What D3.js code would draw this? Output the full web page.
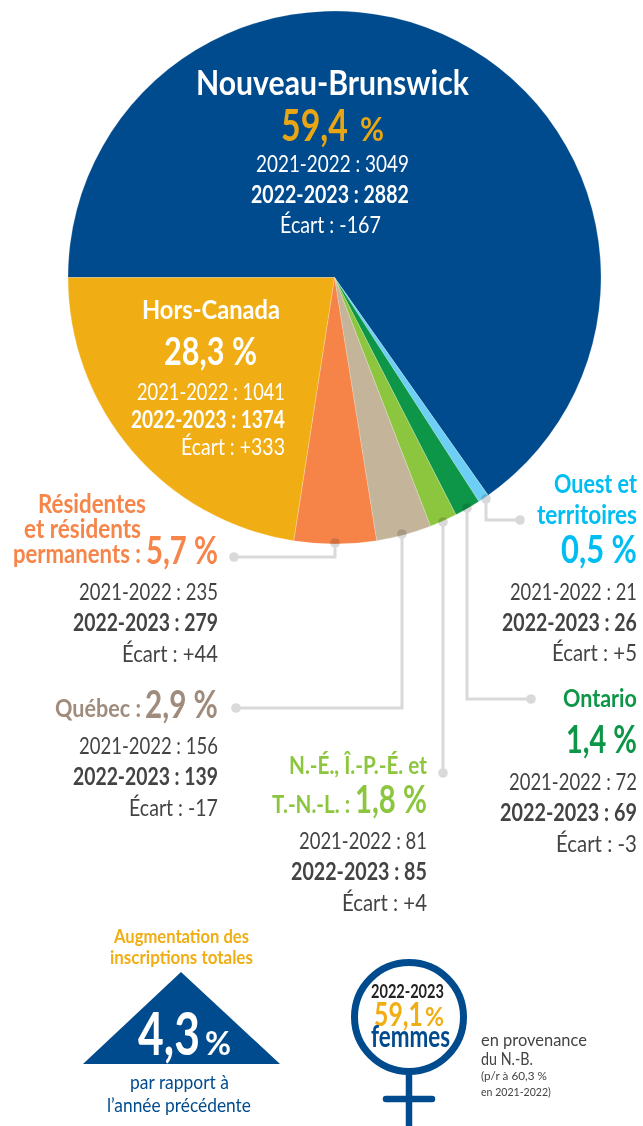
<!DOCTYPE html>
<html lang="fr">
<head>
<meta charset="utf-8">
<title>Inscriptions par provenance</title>
<script src="https://cdn.jsdelivr.net/npm/d3@7"></script>
<style>
  html, body { margin: 0; background: #fff; }
  svg { display: block; }
  text { font-family: Lato, "Open Sans", sans-serif; }
  #leaders { mix-blend-mode: multiply; }
</style>
</head>
<body>
<div id="main"></div>
<script>
// slice order, clockwise from the horizontal edge on the left
const regions = ["Nouveau-Brunswick", "Ouest et territoires", "Ontario", "N.-É., Î.-P.-É. et T.-N.-L.", "Québec", "Résidentes et résidents permanents", "Hors-Canada"];
// the drawn slices are not proportional to the printed percentages: angular size in degrees
const sliceDegrees = [234.8, 2.4, 5.7, 6, 12, 17.9, 81.2];
const percents = ["59,4", "0,5", "1,4", "1,8", "2,9", "5,7", "28,3"];
const previous = [3049, 21, 72, 81, 156, 235, 1041];
const current = [2882, 26, 69, 85, 139, 279, 1374];
const gaps = ["-167", "+5", "-3", "+4", "-17", "+44", "+333"];
const sliceColors = ["#004b8d", "#6dcff6", "#0e9648", "#8cc63f", "#c3b49a", "#f68448", "#f0ae14"];

const ctx = {
    w: 643,
    h: 1126,
    cx: 334.5,
    cy: 277.5,
    r: 266.5,
    blue: "#004b8d",
    gold: "#f0ae14",
    dark: "#434343",
};

// no condensed font is installed, so every string is squeezed to its measured width
function label(g, str, x0, x1, y, size, weight, color){
    let t = g.append("text")
        .attr("font-size", size)
        .attr("font-weight", weight)
        .attr("fill", color)
        .text(str);
    let sx = (x1 - x0) / t.node().getComputedTextLength();
    t.attr("transform", `translate(${x0},${y}) scale(${sx},1)`);
    return t;
}

// the three "2021-2022 / 2022-2023 / Écart" rows of a region
function rows(g, i, right, starts, ys, size, color, gapRight){
    label(g, `2021-2022 : ${previous[i]}`, starts[0], right, ys[0], size, 400, color);
    label(g, `2022-2023 : ${current[i]}`, starts[1], right, ys[1], size, 700, color);
    label(g, `Écart : ${gaps[i]}`, starts[2], gapRight || right, ys[2], size, 400, color);
}

function drawPie(g){
    let pie = d3.pie().sort(null).startAngle(-Math.PI / 2).endAngle(Math.PI * 1.5);
    let arc = d3.arc().innerRadius(0).outerRadius(ctx.r);
    g.append("g")
        .attr("transform", `translate(${ctx.cx},${ctx.cy})`)
        .selectAll("path")
        .data(pie(sliceDegrees))
        .join("path")
        .attr("d", arc)
        .attr("fill", (d, i) => sliceColors[i])
        .attr("stroke", "#fff")
        .attr("stroke-opacity", 0.5)
        .attr("stroke-width", 0.4);
}

function drawConnectors(g){
    const leaders = [
        [[335, 543], [335, 557], [234, 557]],
        [[402, 534], [402, 708], [236, 708]],
        [[443, 522], [443, 773]],
        [[467, 508], [467, 699], [531, 699]],
        [[486, 499], [486, 520], [520, 520]],
    ];
    let line = d3.line();
    let lg = g.append("g").attr("id", "leaders");
    leaders.forEach((pts) => {
        lg.append("path")
            .attr("d", line(pts))
            .attr("fill", "none")
            .attr("stroke", "#d9d9d9")
            .attr("stroke-width", 3);
        lg.selectAll(null)
            .data([pts[0], pts[pts.length - 1]])
            .join("circle")
            .attr("cx", (d) => d[0])
            .attr("cy", (d) => d[1])
            .attr("r", 4.8)
            .attr("fill", "#d9d9d9");
    });
}

function drawLabels(g){
    // Nouveau-Brunswick
    const goldOnBlue = "#e8a514";
    label(g, regions[0], 196, 469, 95, 35, 700, "#fff");
    label(g, percents[0], 281, 348, 141, 43, 700, goldOnBlue);
    label(g, "%", 360, 384, 141, 33, 700, goldOnBlue);
    rows(g, 0, 409, [256, 251, 280], [172, 203, 233], 24, "#fff", 381);

    // Hors-Canada
    label(g, regions[6], 142, 280, 319, 26, 700, "#fff");
    label(g, `${percents[6]} %`, 164, 257, 365, 38, 700, "#fff");
    rows(g, 6, 285, [137, 131, 181], [400, 428, 455], 24, "#fff");

    // Résidentes et résidents permanents
    const orange = "#f6854a";
    label(g, "Résidentes", 38, 146, 513, 26, 700, orange);
    label(g, "et résidents", 24, 141, 538, 26, 700, orange);
    label(g, "permanents :", 13, 141, 563, 26, 700, orange);
    label(g, `${percents[5]} %`, 146, 218, 564, 38, 700, orange);
    rows(g, 5, 218, [79, 73, 122], [600, 631, 662], 24, ctx.dark);

    // Québec
    const taupe = "#a08c7d";
    label(g, "Québec :", 55, 141, 717, 25, 700, taupe);
    label(g, `${percents[4]} %`, 145, 218, 718, 38, 700, taupe);
    rows(g, 4, 218, [79, 73, 129], [754, 785, 816], 24, ctx.dark);

    // Ouest et territoires
    const cyan = "#00bdf2";
    label(g, "Ouest et", 554, 637, 493, 26, 700, cyan);
    label(g, "territoires", 537, 637, 524, 26, 700, cyan);
    label(g, `${percents[1]} %`, 561, 637, 563, 38, 700, cyan);
    rows(g, 1, 637, [510, 502, 552], [600, 631, 661], 24, ctx.dark);

    // Ontario
    const green = "#0e9648";
    label(g, "Ontario", 563, 637, 707, 25, 700, green);
    label(g, `${percents[2]} %`, 566, 637, 753, 38, 700, green);
    rows(g, 2, 637, [509, 500, 556], [790, 821, 852], 24, ctx.dark);

    // Maritimes
    const lime = "#8cc63f";
    label(g, "N.-É., Î.-P.-É. et", 289, 427, 774, 25, 700, lime);
    label(g, "T.-N.-L. :", 272, 350, 813, 25, 700, lime);
    label(g, `${percents[3]} %`, 355, 427, 813, 38, 700, lime);
    rows(g, 3, 427, [299, 291, 342], [849, 880, 911], 24, ctx.dark);
}

function drawFooter(g){
    // total enrolment triangle
    label(g, "Augmentation des", 114, 249, 943, 19, 700, ctx.gold);
    label(g, "inscriptions totales", 110, 253, 964, 19, 700, ctx.gold);
    g.append("path")
        .attr("d", d3.line()([[181, 972], [280, 1064], [83, 1064]]) + "Z")
        .attr("fill", ctx.blue);
    label(g, "4,3", 138, 200, 1055, 60, 700, "#fff");
    label(g, "%", 205, 231, 1055, 33, 700, "#fff");
    label(g, "par rapport à", 130, 229, 1089, 19, 400, ctx.blue);
    label(g, "l’année précédente", 107, 251, 1112, 19, 400, ctx.blue);

    // women symbol
    g.append("circle")
        .attr("cx", 409).attr("cy", 1017).attr("r", 54.5)
        .attr("fill", "none")
        .attr("stroke", ctx.blue)
        .attr("stroke-width", 7);
    g.append("line")
        .attr("x1", 409).attr("x2", 409).attr("y1", 1073).attr("y2", 1126)
        .attr("stroke", ctx.blue)
        .attr("stroke-width", 6.5);
    g.append("line")
        .attr("x1", 386).attr("x2", 432).attr("y1", 1099).attr("y2", 1099)
        .attr("stroke", ctx.blue)
        .attr("stroke-width", 6.5)
        .attr("stroke-linecap", "round");
    label(g, "2022-2023", 371, 444, 998, 18, 700, "#222");
    label(g, "59,1", 374, 423, 1026, 33, 700, ctx.gold);
    label(g, "%", 425, 444, 1026, 26, 700, ctx.gold);
    label(g, "femmes", 371, 450, 1047, 30, 700, ctx.blue);
    label(g, "en provenance", 481, 587, 1046, 17, 400, ctx.dark);
    label(g, "du N.-B.", 481, 533, 1065, 17, 400, ctx.dark);
    label(g, "(p/r à 60,3 %", 481, 547, 1080, 12, 400, ctx.dark);
    label(g, "en 2021-2022)", 481, 551, 1096, 12, 400, ctx.dark);
}

function createViz(){
    let svgEl = d3.select("#main").append("svg")
        .attr("width", ctx.w)
        .attr("height", ctx.h);
    let rootG = svgEl.append("g").attr("id", "rootG");
    drawPie(rootG);
    drawConnectors(rootG);
    drawLabels(rootG);
    drawFooter(rootG);
}

createViz();
</script>
</body>
</html>
